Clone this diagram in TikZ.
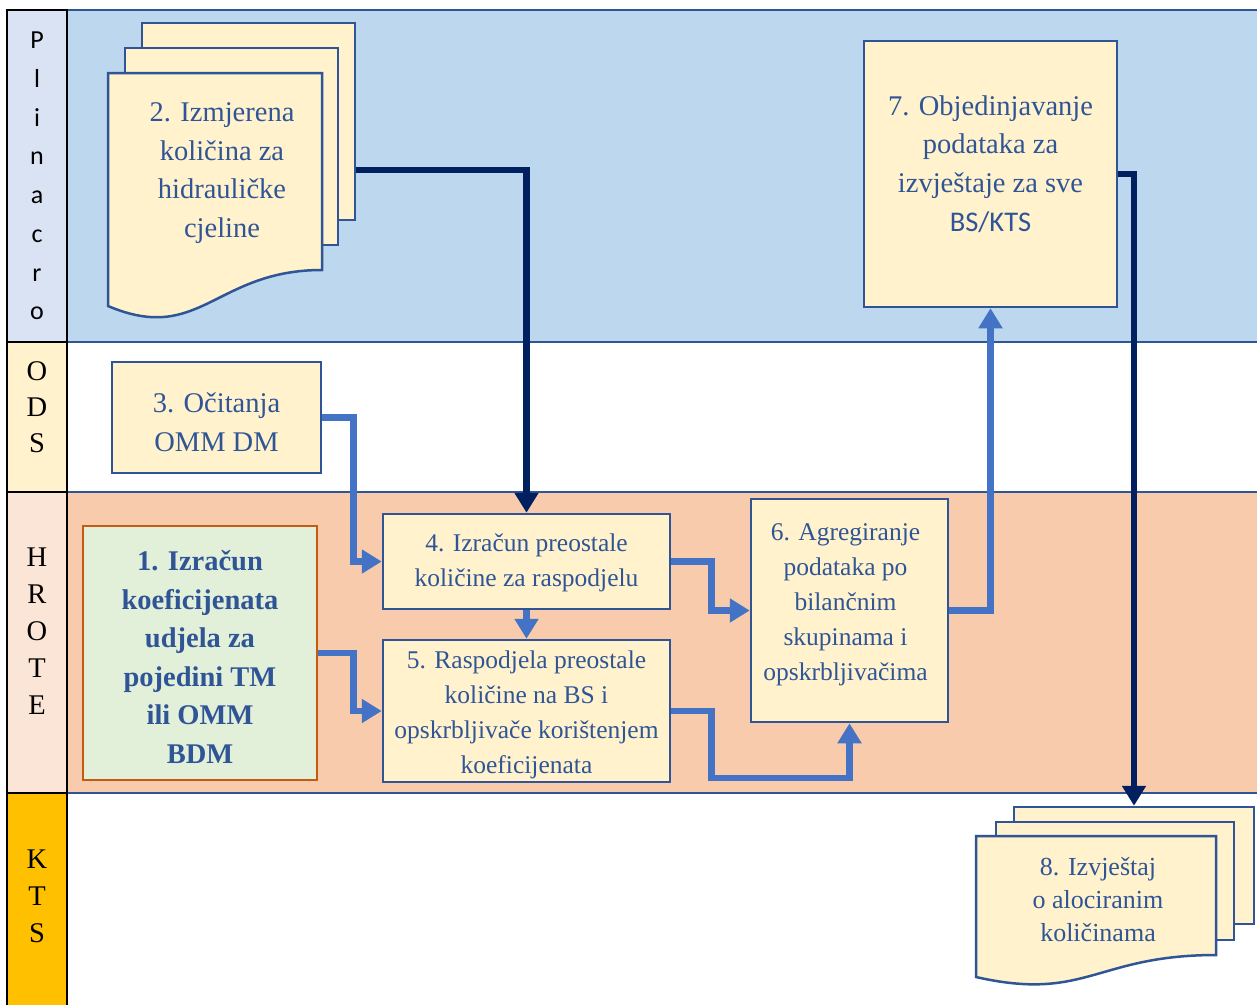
\documentclass[tikz,border=0pt]{standalone}
\usepackage{fontspec}
\setmainfont{Liberation Serif}
\newfontfamily\carl{Carlito}
\usetikzlibrary{arrows.meta}
\definecolor{laneblue}{RGB}{189,215,238}
\definecolor{plinlbl}{RGB}{218,227,243}
\definecolor{odslbl}{RGB}{255,242,204}
\definecolor{hrotelane}{RGB}{248,203,173}
\definecolor{hrotelbl}{RGB}{251,229,214}
\definecolor{ktslbl}{RGB}{255,192,0}
\definecolor{boxfill}{RGB}{255,242,204}
\definecolor{greenfill}{RGB}{226,240,217}
\definecolor{orangeedge}{RGB}{197,90,17}
\definecolor{edgeblue}{RGB}{47,85,151}
\definecolor{txtblue}{RGB}{47,85,151}
\definecolor{arrblue}{RGB}{68,114,196}
\definecolor{navy}{RGB}{0,32,96}
\tikzset{
  lane/.style={draw=edgeblue, line width=2pt},
  lblcell/.style={draw=black, line width=2.5pt},
  lbltext/.style={text=black, align=center, inner sep=0pt},
  box/.style={draw=edgeblue, line width=2.5pt, fill=boxfill, inner sep=0pt},
  page/.style={draw=edgeblue, line width=2.5pt, fill=boxfill, inner sep=0pt},
  doctext/.style={text=txtblue, align=center, inner sep=0pt},
  bigfont/.style={font=\fontsize{28.5}{38.8}\selectfont},
  midfont/.style={font=\fontsize{25.5}{35}\selectfont},
  bluearrow/.style={draw=arrblue, line width=6.5pt, -{Triangle[length=20pt,width=23pt]}},
  navyarrow/.style={draw=navy, line width=6.5pt, -{Triangle[length=20pt,width=23pt]}}
}
\begin{document}
\begin{tikzpicture}[x=1pt,y=-1pt]
\clip (0,0) rectangle (1257,1004);
\fill[white] (0,0) rectangle (1257,1004);
% lanes
\draw[lane, fill=laneblue] (67,10) rectangle (1275,342);
\draw[lane, fill=white] (67,342) rectangle (1275,492);
\draw[lane, fill=hrotelane] (67,492) rectangle (1275,793);
\draw[lane, fill=white] (67,793) rectangle (1275,1020);
% label column
\draw[lblcell, fill=plinlbl] (7,10) rectangle (67,342);
\draw[lblcell, fill=odslbl] (7,342) rectangle (67,492);
\draw[lblcell, fill=hrotelbl] (7,492) rectangle (67,793);
\draw[lblcell, fill=ktslbl] (7,793) rectangle (67,1020);
\node[lbltext, font=\carl\fontsize{26}{38.7}\selectfont] (lplin) at (37,176) {P\\l\\i\\n\\a\\c\\r\\o};
\node[lbltext, font=\fontsize{28.5}{36}\selectfont] (lods) at (37,407) {O\\D\\S};
\node[lbltext, font=\fontsize{28.5}{37}\selectfont] (lhrote) at (37,631.5) {H\\R\\O\\T\\E};
\node[lbltext, font=\fontsize{28.5}{37}\selectfont] (lkts) at (37,896.5) {K\\T\\S};
% document 2
\node[page, minimum width=213pt, minimum height=197pt] (back2) at (248.5,121.5) {};
\node[page, minimum width=213pt, minimum height=197pt] (mid2) at (231.5,146.5) {};
\draw[edgeblue, line width=2.5pt, fill=boxfill] (108,73) -- (322,73) -- (322,270)
  .. controls (215,270) and (200,345) .. (108,306) -- cycle;
\node[doctext, bigfont] (doc2) at (222,173) {2. Izmjerena\\količina za\\hidrauličke\\cjeline};
% document 8
\node[page, minimum width=240pt, minimum height=117pt] (back8) at (1134,865.5) {};
\node[page, minimum width=238pt, minimum height=118pt] (mid8) at (1115,881) {};
\draw[edgeblue, line width=2.5pt, fill=boxfill] (976,836) -- (1216,836) -- (1216,955)
  .. controls (1096,955) and (1086,1002) .. (976,977) -- cycle;
\node[doctext, font=\fontsize{26}{33}\selectfont] (doc8) at (1098,899.5) {8. Izvještaj\\o alociranim\\količinama};
% boxes
\node[box, minimum width=253pt, minimum height=266pt] (b7) at (990.5,174) {};
\node[doctext, bigfont] (t7) at (990.5,164) {7. Objedinjavanje\\podataka za\\izvještaje za sve\\{\carl BS/KTS}};
\node[box, minimum width=209pt, minimum height=111pt] (b3) at (216.5,417.5) {};
\node[doctext, bigfont] (t3) at (216.5,422.5) {3. Očitanja\\OMM DM};
\node[box, draw=orangeedge, fill=greenfill, minimum width=234pt, minimum height=254pt] (b1) at (200,653) {};
\node[doctext, font=\bfseries\fontsize{28.5}{38.6}\selectfont] (t1) at (200,657) {1. Izračun\\koeficijenata\\udjela za\\pojedini TM\\ili OMM\\BDM};
\node[box, minimum width=287pt, minimum height=95pt] (b4) at (526.5,561.5) {};
\node[doctext, midfont] (t4) at (526.5,562.5) {4. Izračun preostale\\količine za raspodjelu};
\node[box, minimum width=287pt, minimum height=142pt] (b5) at (526.5,711) {};
\node[doctext, midfont] (t5) at (526.5,715) {5. Raspodjela preostale\\količine na BS i\\opskrbljivače korištenjem\\koeficijenata};
\node[box, minimum width=197pt, minimum height=223pt] (b6) at (849.5,610.5) {};
\node[doctext, midfont] (t6) at (845.5,604.5) {6. Agregiranje\\podataka po\\bilančnim\\skupinama i\\opskrbljivačima};
% connectors
\draw[navyarrow] ([yshift=3pt]doc2.center -| back2.east) -| (b4.north);
\draw[navyarrow] (b7.east) -| (back8.north);
\draw[bluearrow] (b3.east) -- ++(31,0) |- (b4.west);
\draw[bluearrow] (b1.east) -- ++(35,0) |- (b5.west);
\draw[bluearrow] (b4.south) -- (b5.north);
\draw[bluearrow] (b4.east) -- ++(40,0) |- (b6.west);
\draw[bluearrow] (b5.east) -- ++(40,0) -- ++(0,67) -| (b6.south);
\draw[bluearrow] (b6.east) -| (b7.south);
\end{tikzpicture}
\end{document}
